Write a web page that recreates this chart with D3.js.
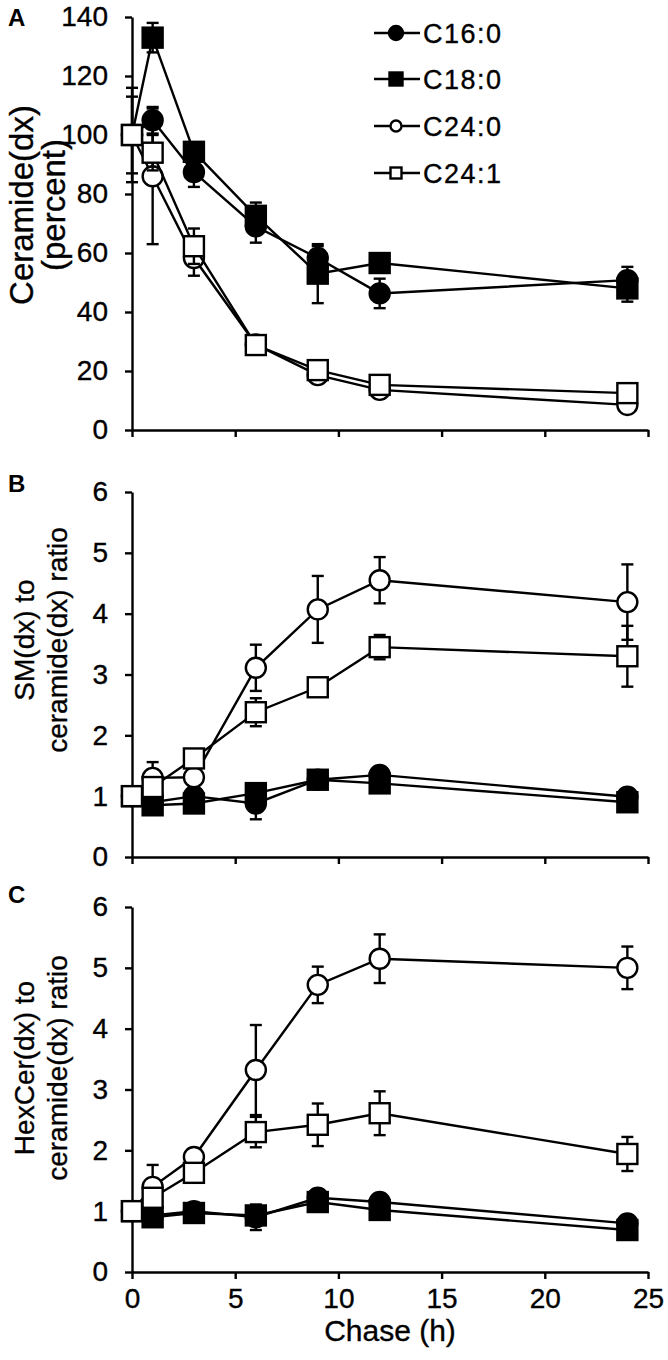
<!DOCTYPE html>
<html><head><meta charset="utf-8">
<script src="https://cdn.jsdelivr.net/npm/d3@7"></script>
<style>
body{margin:0;background:#fff}
svg{display:block}
text{font-family:"Liberation Sans",Arial,Helvetica,sans-serif;fill:#000}
</style>
</head><body>
<svg id="chart" width="668" height="1360"></svg>
<script>
// ---------- data ----------
const hours = [0, 1, 3, 6, 9, 12, 24];
const seriesNames = ["C16:0", "C18:0", "C24:0", "C24:1"];
const xTicks = [0, 5, 10, 15, 20, 25];
const cerTicks = [0, 20, 40, 60, 80, 100, 120, 140];
const ratioTicks = [0, 1, 2, 3, 4, 5, 6];

// Panel A: ceramide(dx) percent
const cerC16 = [100, 105, 87.4, 69, 58.3, 46.3, 50.8];
const cerC16Err = [13, 4.5, 5, 5.5, 4, 5, 4.5];
const cerC18 = [100, 133, 94.3, 72.6, 53, 56.6, 48];
const cerC18Err = [16, 5, 3, 4.5, 10, 2, 4.5];
const cerC240 = [100, 86, 58.3, 29, 18.6, 13.6, 8.5];
const cerC240Err = [0, 23, 6, 1, 2, 1, 1.5];
const cerC241 = [100, 94, 62.3, 28.8, 20.3, 15.3, 12.5];
const cerC241Err = [0, 6, 6, 1, 1, 1, 1];

// Panel B: SM(dx) to ceramide(dx) ratio
const smC16 = [1, 0.9, 1.0, 0.88, 1.27, 1.35, 0.99];
const smC16Err = [0, 0.05, 0.1, 0.26, 0.05, 0.1, 0.05];
const smC18 = [1, 0.85, 0.88, 1.05, 1.27, 1.21, 0.9];
const smC18Err = [0, 0.03, 0.05, 0.1, 0.05, 0.05, 0.05];
const smC240 = [1, 1.3, 1.31, 3.11, 4.07, 4.55, 4.19];
const smC240Err = [0.1, 0.26, 0.1, 0.38, 0.55, 0.38, 0.62];
const smC241 = [1, 1.15, 1.62, 2.38, 2.79, 3.45, 3.3];
const smC241Err = [0, 0.1, 0.1, 0.23, 0.1, 0.2, 0.5];

// Panel C: HexCer(dx) to ceramide(dx) ratio
const hexC16 = [1, 0.93, 1.0, 0.9, 1.22, 1.15, 0.8];
const hexC16Err = [0, 0.05, 0.05, 0.21, 0.05, 0.05, 0.05];
const hexC18 = [1, 0.9, 0.97, 0.93, 1.15, 1.02, 0.69];
const hexC18Err = [0, 0.03, 0.03, 0.05, 0.05, 0.05, 0.05];
const hexC240 = [1, 1.4, 1.89, 3.32, 4.72, 5.15, 5.0];
const hexC240Err = [0, 0.36, 0.1, 0.74, 0.3, 0.4, 0.35];
const hexC241 = [1, 1.22, 1.63, 2.3, 2.42, 2.61, 1.94];
const hexC241Err = [0, 0.1, 0.1, 0.25, 0.35, 0.36, 0.28];

// ---------- layout ----------
const svg = d3.select("#chart");
const X0 = 132, X1 = 648;
const x = d3.scaleLinear().domain([0, 25]).range([X0, X1]);
const FONT = '"Liberation Sans",Arial,Helvetica,sans-serif';
const SW = 2.4;

const panels = [
  {letter: "A", letterY: 26, title: ["Ceramide(dx)", "(percent)"], titleY: 205, titleSize: 33, titleX: [33, 65],
   domain: [0, 140], ticks: cerTicks, top: 17, bottom: 430, xLabels: false,
   series: [[cerC16, cerC16Err], [cerC18, cerC18Err], [cerC240, cerC240Err], [cerC241, cerC241Err]]},
  {letter: "B", letterY: 492, title: ["SM(dx) to", "ceramide(dx) ratio"], titleY: 640, titleSize: 28, titleX: [34, 67],
   domain: [0, 6], ticks: ratioTicks, top: 492, bottom: 857, xLabels: false,
   series: [[smC16, smC16Err], [smC18, smC18Err], [smC240, smC240Err], [smC241, smC241Err]]},
  {letter: "C", letterY: 903, title: ["HexCer(dx) to", "ceramide(dx) ratio"], titleY: 1068, titleSize: 28, titleX: [34, 67],
   domain: [0, 6], ticks: ratioTicks, top: 907, bottom: 1272, xLabels: true,
   series: [[hexC16, hexC16Err], [hexC18, hexC18Err], [hexC240, hexC240Err], [hexC241, hexC241Err]]}
];

const markerStyle = [
  {shape: "circle", fill: "#000"},
  {shape: "square", fill: "#000"},
  {shape: "circle", fill: "#fff"},
  {shape: "square", fill: "#fff"}
];
const R = 10, S = 20, CAP = 6;

function drawMarker(g, shape, fill, cx, cy, r, s) {
  if (shape === "circle") {
    g.append("circle").attr("cx", cx).attr("cy", cy).attr("r", r)
      .attr("fill", fill).attr("stroke", "#000").attr("stroke-width", SW);
  } else {
    g.append("rect").attr("x", cx - s / 2).attr("y", cy - s / 2).attr("width", s).attr("height", s)
      .attr("fill", fill).attr("stroke", "#000").attr("stroke-width", SW);
  }
}

function styleText(sel, size) {
  sel.attr("font-size", size).attr("font-family", FONT).attr("fill", "#000")
     .attr("stroke", "#000").attr("stroke-width", 0.35);
}

panels.forEach(p => {
  const y = d3.scaleLinear().domain(p.domain).range([p.bottom, p.top]);
  const g = svg.append("g");

  // y axis
  const ya = g.append("g").attr("transform", `translate(${X0},0)`)
    .call(d3.axisLeft(y).tickValues(p.ticks).tickSize(7).tickSizeOuter(0).tickPadding(17).tickFormat(d3.format("d")));
  ya.select(".domain").attr("stroke-width", SW);
  ya.selectAll(".tick line").attr("stroke-width", SW);
  styleText(ya.selectAll(".tick text"), 28);

  // x axis
  const xa = g.append("g").attr("transform", `translate(0,${p.bottom})`)
    .call(d3.axisBottom(x).tickValues(xTicks).tickSize(7).tickSizeOuter(0).tickPadding(9)
      .tickFormat(p.xLabels ? d3.format("d") : ""));
  xa.select(".domain").attr("stroke-width", SW);
  xa.selectAll(".tick line").attr("stroke-width", SW);
  styleText(xa.selectAll(".tick text"), 28);

  // panel letter
  g.append("text").attr("x", 8).attr("y", p.letterY).attr("font-size", 24).attr("font-weight", "bold").text(p.letter);

  // y title (two lines, rotated)
  p.title.forEach((t, i) => {
    styleText(g.append("text")
      .attr("transform", `translate(${p.titleX[i]},${p.titleY}) rotate(-90)`)
      .attr("text-anchor", "middle").text(t), p.titleSize);
  });

  // series
  const line = d3.line().x((d, i) => x(hours[i])).y(d => y(d));
  p.series.forEach(([vals, errs], si) => {
    const sg = g.append("g");
    sg.append("path").datum(vals).attr("d", line).attr("fill", "none")
      .attr("stroke", "#000").attr("stroke-width", SW);
    vals.forEach((v, i) => {
      const e = errs[i];
      if (e > 0) {
        const cx = x(hours[i]);
        const yl = y(v - e), yh = y(v + e);
        sg.append("line").attr("x1", cx).attr("x2", cx).attr("y1", yl).attr("y2", yh)
          .attr("stroke", "#000").attr("stroke-width", SW);
        [yl, yh].forEach(yy => sg.append("line").attr("x1", cx - CAP).attr("x2", cx + CAP)
          .attr("y1", yy).attr("y2", yy).attr("stroke", "#000").attr("stroke-width", SW));
      }
    });
    const m = markerStyle[si];
    vals.forEach((v, i) => drawMarker(sg, m.shape, m.fill, x(hours[i]), y(v), R, S));
  });
});

// x axis title
styleText(svg.append("text").attr("x", 390).attr("y", 1341).attr("text-anchor", "middle").text("Chase (h)"), 30);

// legend
const legRows = [33, 79, 126, 173];
const legSizes = [[7, 13], [7, 13], [5.5, 11], [5.5, 11]];
seriesNames.forEach((name, i) => {
  const lg = svg.append("g");
  const cy = legRows[i];
  lg.append("line").attr("x1", 374).attr("x2", 420).attr("y1", cy).attr("y2", cy)
    .attr("stroke", "#000").attr("stroke-width", SW);
  drawMarker(lg, markerStyle[i].shape, markerStyle[i].fill, 396, cy, legSizes[i][0], legSizes[i][1]);
  styleText(lg.append("text").attr("x", 423).attr("y", cy + 10).attr("letter-spacing", 1.5).text(name), 27);
});
</script>
</body></html>
